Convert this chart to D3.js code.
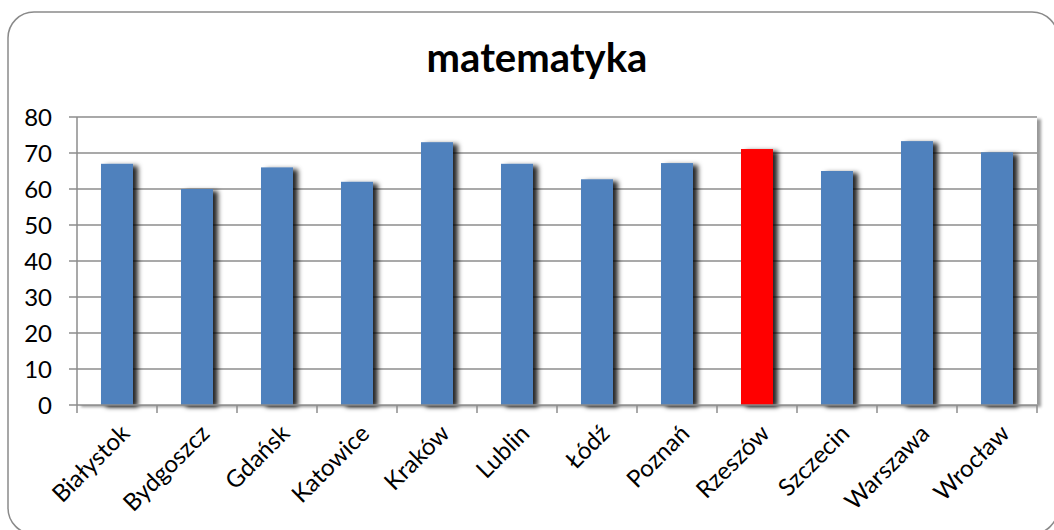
<!DOCTYPE html>
<html>
<head>
<meta charset="utf-8">
<script src="https://cdn.jsdelivr.net/npm/d3@7"></script>
<style>
  body { margin: 0; background: #fff; }
  text { font-family: Lato, "Open Sans", sans-serif; fill: #000; }
</style>
</head>
<body>
<div id="chart"></div>
<script>
// data
var cities = ['Białystok','Bydgoszcz','Gdańsk','Katowice','Kraków','Lublin','Łódź','Poznań','Rzeszów','Szczecin','Warszawa','Wrocław'];
var scores = [67, 60, 66, 62, 73, 67, 62.7, 67.2, 71.1, 65, 73.3, 70.2];
var highlight = ['Rzeszów'];
var yTicks = [0, 10, 20, 30, 40, 50, 60, 70, 80];
var title = 'matematyka';

var W = 1054, H = 530;
var margin = {top: 117, left: 77, right: 17, bottom: 125};

var svg = d3.select('#chart').append('svg')
    .attr('width', W)
    .attr('height', H);

var defs = svg.append('defs');
var sh = defs.append('filter').attr('id', 'barShadow')
    .attr('x', '-30%').attr('y', '-10%').attr('width', '170%').attr('height', '120%');
sh.append('feDropShadow')
    .attr('dx', 5).attr('dy', 2).attr('stdDeviation', 2.5)
    .attr('flood-color', '#000').attr('flood-opacity', 0.85);

var ps = defs.append('filter').attr('id', 'plotShadow')
    .attr('x', '-5%').attr('y', '-5%').attr('width', '110%').attr('height', '110%');
ps.append('feDropShadow')
    .attr('dx', 4).attr('dy', 2).attr('stdDeviation', 1.5)
    .attr('flood-color', '#000').attr('flood-opacity', 0.4);

// outer frame
svg.append('rect')
    .attr('x', 8).attr('y', 12)
    .attr('width', 1050).attr('height', 522)
    .attr('rx', 26).attr('ry', 26)
    .attr('fill', '#fff')
    .attr('stroke', '#8a8a8a').attr('stroke-width', 1.5);

svg.append('text')
    .attr('x', 537).attr('y', 72)
    .attr('text-anchor', 'middle')
    .style('font-size', '40px').style('font-weight', 'bold')
    .text(title);

var x = d3.scaleBand()
    .domain(cities)
    .range([margin.left, W - margin.right]);

var y = d3.scaleLinear()
    .domain([0, 80])
    .range([H - margin.bottom, margin.top]);

var g = svg.append('g');

// plot area with its shadow
g.append('rect')
    .attr('x', margin.left).attr('y', margin.top)
    .attr('width', x.range()[1] - margin.left)
    .attr('height', y(0) - margin.top)
    .attr('fill', '#fff')
    .attr('filter', 'url(#plotShadow)');

// gridlines
g.selectAll('.grid')
    .data(yTicks.filter(function(d){ return d > 0; }))
    .enter().append('line')
    .attr('x1', margin.left - 8).attr('x2', x.range()[1])
    .attr('y1', function(d){ return y(d); })
    .attr('y2', function(d){ return y(d); })
    .attr('stroke', '#8c8c8c').attr('stroke-width', 1.5);

// bars
var bw = x.bandwidth() * 0.4;
g.selectAll('.bar')
    .data(cities)
    .enter().append('rect')
    .attr('x', function(d){ return x(d) + (x.bandwidth() - bw) / 2; })
    .attr('y', function(d, i){ return y(scores[i]); })
    .attr('width', bw)
    .attr('height', function(d, i){ return y(0) - y(scores[i]); })
    .attr('fill', function(d){ return highlight.indexOf(d) >= 0 ? '#ff0000' : '#4f81bd'; })
    .attr('filter', 'url(#barShadow)');

// y axis
g.append('line')
    .attr('x1', margin.left).attr('x2', margin.left)
    .attr('y1', margin.top).attr('y2', y(0))
    .attr('stroke', '#8c8c8c').attr('stroke-width', 1.5);
g.selectAll('.ytick')
    .data(yTicks)
    .enter().append('text')
    .attr('x', 52)
    .attr('y', function(d){ return y(d) + 8.5; })
    .attr('text-anchor', 'end')
    .style('font-size', '24px')
    .text(function(d){ return d; });

// x axis
g.append('line')
    .attr('x1', margin.left - 8).attr('x2', x.range()[1])
    .attr('y1', y(0)).attr('y2', y(0))
    .attr('stroke', '#8c8c8c').attr('stroke-width', 1.5);
var bounds = cities.map(function(d){ return x(d); }).concat([x.range()[1]]);
g.selectAll('.xtick')
    .data(bounds)
    .enter().append('line')
    .attr('x1', function(d){ return d; }).attr('x2', function(d){ return d; })
    .attr('y1', y(0)).attr('y2', y(0) + 8)
    .attr('stroke', '#8c8c8c').attr('stroke-width', 1.5);

g.selectAll('.xlabel')
    .data(cities)
    .enter().append('text')
    .attr('transform', function(d){
        var cx = x(d) + x.bandwidth() / 2 + 14;
        return 'translate(' + cx + ',' + (y(0) + 30) + ') rotate(-45)';
    })
    .attr('text-anchor', 'end')
    .style('font-size', '24px')
    .text(function(d){ return d; });
</script>
</body>
</html>
